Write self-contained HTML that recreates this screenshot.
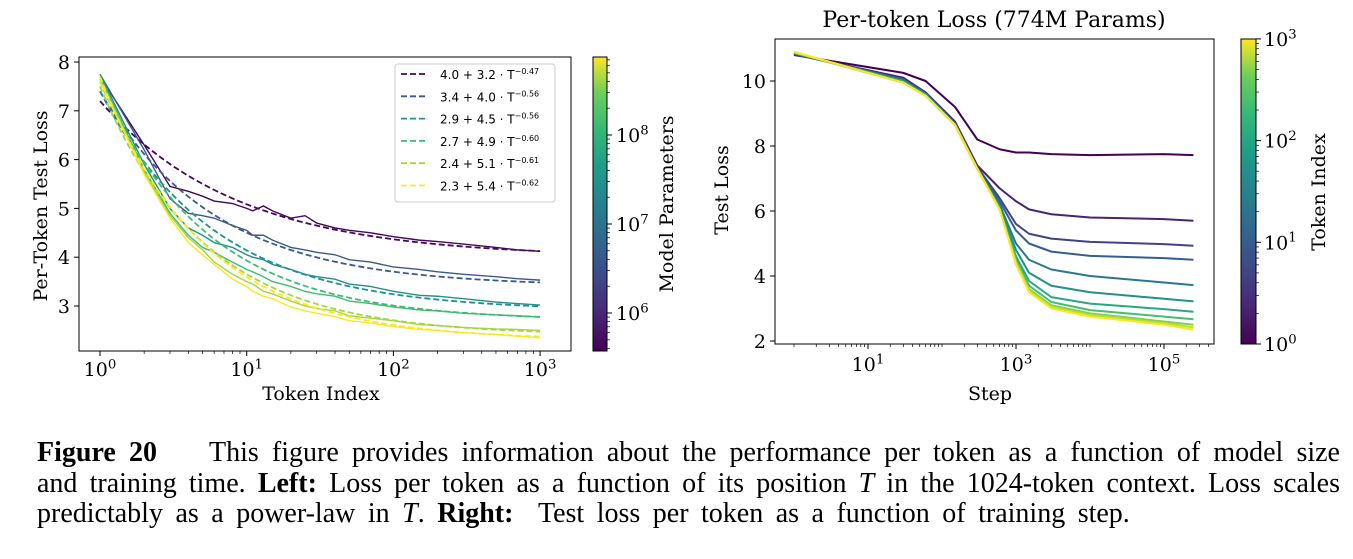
<!DOCTYPE html>
<html><head><meta charset="utf-8">
<style>
html,body{margin:0;padding:0;background:#fff;}
body{width:1353px;height:559px;overflow:hidden;position:relative;font-family:"DejaVu Serif","Liberation Serif",serif;}
svg{position:absolute;left:0;top:0;}
.cap{position:absolute;left:37px;width:1303px;font-family:"Liberation Serif",serif;font-size:28px;line-height:32px;color:#000;white-space:nowrap;}
.j{text-align:justify;text-align-last:justify;}
</style></head>
<body>
<svg id="chart" width="1353" height="430">
<defs>
<linearGradient id="vir" x1="0" y1="1" x2="0" y2="0">
<stop offset="0" stop-color="#440154"/><stop offset="0.13" stop-color="#482878"/><stop offset="0.25" stop-color="#3e4989"/><stop offset="0.38" stop-color="#31688e"/><stop offset="0.5" stop-color="#26828e"/><stop offset="0.63" stop-color="#1f9e89"/><stop offset="0.75" stop-color="#35b779"/><stop offset="0.88" stop-color="#6ece58"/><stop offset="1" stop-color="#fde725"/>
</linearGradient>
</defs>
<g id="left"></g><g id="right"></g>
</svg>
<div class="cap j" style="top:437px"><b>Figure 20</b>&nbsp;&nbsp;&nbsp; This figure provides information about the performance per token as a function of model size</div>
<div class="cap j" style="top:468px">and training time. <b>Left:</b> Loss per token as a function of its position <i>T</i> in the 1024-token context. Loss scales</div>
<div class="cap" style="top:498px;word-spacing:5.5px">predictably as a power-law in <i>T</i>. <b>Right:</b>&nbsp; Test loss per token as a function of training step.</div>
<script>
// ---------- LEFT CHART DATA ----------
const tokenIdx = [1,2,3,4,5,6,8,10,11,13,15,20,25,30,40,50,70,100,150,200,300,500,700,1000];
const lossS1 = [7.7,6.3,5.45,5.35,5.25,5.15,5.1,5.0,4.95,5.05,4.95,4.8,4.85,4.7,4.6,4.55,4.5,4.42,4.35,4.32,4.27,4.2,4.15,4.12];
const lossS2 = [7.75,6.2,5.2,4.9,4.85,4.8,4.65,4.55,4.45,4.45,4.35,4.2,4.15,4.1,4.05,3.95,3.9,3.8,3.75,3.7,3.65,3.6,3.56,3.53];
const lossS3 = [7.75,5.9,5.0,4.6,4.45,4.3,4.2,4.05,4.0,3.95,3.85,3.75,3.65,3.6,3.55,3.45,3.4,3.3,3.22,3.2,3.15,3.08,3.05,3.02];
const lossS4 = [7.7,5.8,4.9,4.45,4.2,4.1,3.9,3.75,3.7,3.6,3.5,3.4,3.3,3.25,3.2,3.1,3.05,2.98,2.92,2.9,2.85,2.82,2.8,2.77];
const lossS5 = [7.65,5.75,4.85,4.4,4.15,3.9,3.65,3.5,3.45,3.3,3.25,3.1,3.0,2.95,2.9,2.8,2.75,2.7,2.62,2.6,2.56,2.53,2.52,2.5];
const lossS6 = [7.6,5.7,4.8,4.3,4.05,3.85,3.55,3.4,3.3,3.2,3.15,2.98,2.9,2.85,2.78,2.7,2.65,2.58,2.52,2.5,2.45,2.42,2.38,2.35];
const fitA = [4.0,3.4,2.9,2.7,2.4,2.3];
const fitB = [3.2,4.0,4.5,4.9,5.1,5.4];
const fitC = [0.47,0.56,0.56,0.60,0.61,0.62];
const fitLabels = ["4.0 + 3.2 · T","3.4 + 4.0 · T","2.9 + 4.5 · T","2.7 + 4.9 · T","2.4 + 5.1 · T","2.3 + 5.4 · T"];
const fitExp = ["−0.47","−0.56","−0.56","−0.60","−0.61","−0.62"];
const leftColors = ["#45085b","#3b5a8c","#20918c","#3fbc73","#a2d83a","#fde725"];
const leftYTicks = [3,4,5,6,7,8];
const leftXTicks = [0,1,2,3];
const cbLeftTicks = [6,7,8];
// ---------- RIGHT CHART DATA ----------
const steps = [1,30,60,150,300,600,1000,1500,3000,10000,100000,250000];
const tokIndexR = [1,2,4,8,16,32,64,128,256,512,1024];
const rS1 = [10.8,10.25,10.0,9.2,8.2,7.9,7.8,7.8,7.75,7.72,7.75,7.72];
const rS2 = [10.82,10.1,9.65,8.75,7.4,6.7,6.3,6.05,5.9,5.8,5.75,5.7];
const rS3 = [10.83,10.05,9.65,8.7,7.35,6.4,5.6,5.3,5.15,5.05,4.98,4.93];
const rS4 = [10.84,10.05,9.6,8.7,7.3,6.3,5.4,5.0,4.75,4.62,4.55,4.5];
const rS5 = [10.85,10.0,9.6,8.65,7.3,6.2,5.0,4.5,4.2,4.0,3.8,3.72];
const rS6 = [10.86,10.0,9.6,8.65,7.3,6.15,4.8,4.1,3.7,3.5,3.3,3.22];
const rS7 = [10.87,10.0,9.55,8.65,7.3,6.1,4.6,3.85,3.35,3.15,2.98,2.9];
const rS8 = [10.88,9.95,9.55,8.65,7.3,6.05,4.5,3.7,3.2,2.95,2.75,2.67];
const rS9 = [10.88,9.95,9.55,8.65,7.3,6.05,4.45,3.6,3.1,2.85,2.6,2.5];
const rS10 = [10.89,9.95,9.55,8.65,7.3,6.05,4.4,3.55,3.05,2.8,2.55,2.42];
const rS11 = [10.9,9.95,9.55,8.65,7.3,6.05,4.35,3.5,3.0,2.75,2.5,2.35];
const rightYTicks = [2,4,6,8,10];
const rightXTicks = [1,3,5];
const cbRightTicks = [0,1,2,3];

const NS="http://www.w3.org/2000/svg";
function mk(tag,attrs,parent){const e=document.createElementNS(NS,tag);for(const k in attrs)e.setAttribute(k,attrs[k]);parent.appendChild(e);return e;}
function viridis(t){const s=[[68,1,84],[72,40,120],[62,73,137],[49,104,142],[38,130,142],[31,158,137],[53,183,121],[110,206,88],[181,222,43],[253,231,37]];
 t=Math.max(0,Math.min(1,t))*(s.length-1);const i=Math.min(Math.floor(t),s.length-2),f=t-i;
 return "rgb("+s[i].map((v,k)=>Math.round(v+(s[i+1][k]-v)*f)).join(",")+")";}
function sup(parent,x,y,base,exp,size,anchor,name){
 const t=mk("text",{x:x,y:y,"font-size":size,"text-anchor":anchor,fill:"#000"},parent);
 
 
 t.appendChild(document.createTextNode(base));
 const s=mk("tspan",{dy:-size*0.4,"font-size":size*0.7},t);s.textContent=exp;return t;}

// ---------- LEFT ----------
const L=document.getElementById("left");
const lx=v=>100+(Math.log10(v))*146.7;
const ly=v=>306-(v-3)*48.8;
leftYTicks.forEach(v=>{
 mk("line",{x1:74,x2:79,y1:ly(v),y2:ly(v),stroke:"#000"},L);
 const t=mk("text",{x:70,y:ly(v)+7,"font-size":19,"text-anchor":"end"},L);
 
 
 t.textContent=v;});
leftXTicks.forEach(e=>{
 mk("line",{x1:lx(Math.pow(10,e)),x2:lx(Math.pow(10,e)),y1:351,y2:356,stroke:"#000"},L);
 sup(L,lx(Math.pow(10,e)),376,"10",e,19,"middle","left-x-tick-label");
 for(let m=2;m<10&&e<3;m++){const xx=lx(m*Math.pow(10,e));mk("line",{x1:xx,x2:xx,y1:351,y2:354,stroke:"#000","stroke-width":0.7},L);}
});
{const t=mk("text",{x:321,y:400,"font-size":19,"text-anchor":"middle"},L);
 
 
 t.textContent="Token Index";}
{const t=mk("text",{x:0,y:0,"font-size":19,"text-anchor":"middle",transform:"translate(47,206) rotate(-90)"},L);
 
 
 t.textContent="Per-Token Test Loss";}
const leftSeries=[lossS1,lossS2,lossS3,lossS4,lossS5,lossS6];
leftSeries.forEach((s,i)=>{
 const p=mk("polyline",{points:s.map((v,k)=>lx(tokenIdx[k])+","+ly(v)).join(" "),fill:"none",stroke:leftColors[i],"stroke-width":1.4},L);
 
 
 const pts=[];for(let k=0;k<=60;k++){const T=Math.pow(10,3*k/60);pts.push(lx(T)+","+ly(fitA[i]+fitB[i]*Math.pow(T,-fitC[i])));}
 const d=mk("polyline",{points:pts.join(" "),fill:"none",stroke:leftColors[i],"stroke-width":1.8,"stroke-dasharray":"6,3"},L);
 
 
});
{const r=mk("rect",{x:79,y:57,width:492,height:294,fill:"none",stroke:"#000","stroke-width":1},L);
 
 }
{const lg=mk("g",{},L);
 
 
 mk("rect",{x:395,y:64,width:160,height:138,rx:3,fill:"#fff",stroke:"#ccc"},lg);
 fitLabels.forEach((lab,i)=>{const y=74+i*22.3;
  mk("line",{x1:401,x2:428,y1:y,y2:y,stroke:leftColors[i],"stroke-width":1.8,"stroke-dasharray":"6,3"},lg);
  const t=mk("text",{x:440,y:y+5,"font-size":12,"font-family":"DejaVu Sans, sans-serif"},lg);
  
  
  t.textContent=lab;const s=mk("tspan",{dy:-5,"font-size":8},t);s.textContent=fitExp[i];});
}
// left colorbar
{const r=mk("rect",{x:593,y:57,width:14,height:294,fill:"url(#vir)",stroke:"#000","stroke-width":1},L);
 
 
 const cy=e=>313-(e-6)*89;
 cbLeftTicks.forEach(e=>{mk("line",{x1:607,x2:612,y1:cy(e),y2:cy(e),stroke:"#000"},L);
  sup(L,616,cy(e)+7,"10",e,19,"start","left-colorbar-tick");});
 for(let e=5;e<9;e++)for(let m=2;m<10;m++){const yy=cy(e+Math.log10(m));if(yy>57&&yy<351)mk("line",{x1:607,x2:610,y1:yy,y2:yy,stroke:"#000","stroke-width":0.7},L);}
 const t=mk("text",{x:0,y:0,"font-size":19,"text-anchor":"middle",transform:"translate(673,204) rotate(-90)"},L);
 
 
 t.textContent="Model Parameters";}

// ---------- RIGHT ----------
const R=document.getElementById("right");
const rx=v=>868+(Math.log10(v)-1)*74;
const ry=v=>341-(v-2)*32.5;
{const t=mk("text",{x:994,y:27,"font-size":22,"text-anchor":"middle"},R);
 
 
 t.textContent="Per-token Loss (774M Params)";}
rightYTicks.forEach(v=>{
 mk("line",{x1:770,x2:775,y1:ry(v),y2:ry(v),stroke:"#000"},R);
 const t=mk("text",{x:766,y:ry(v)+7,"font-size":19,"text-anchor":"end"},R);
 
 
 t.textContent=v;});
rightXTicks.forEach(e=>{
 mk("line",{x1:rx(Math.pow(10,e)),x2:rx(Math.pow(10,e)),y1:344,y2:349,stroke:"#000"},R);
 sup(R,rx(Math.pow(10,e)),371,"10",e,19,"middle","right-x-tick-label");});
for(let e=0;e<6;e++)for(let m=1;m<10;m++){const xx=rx(m*Math.pow(10,e));if(xx>775&&xx<1214&&!(m==1&&e%2==1))mk("line",{x1:xx,x2:xx,y1:344,y2:347,stroke:"#000","stroke-width":0.7},R);}
{const t=mk("text",{x:990,y:400,"font-size":19,"text-anchor":"middle"},R);
 
 
 t.textContent="Step";}
{const t=mk("text",{x:0,y:0,"font-size":19,"text-anchor":"middle",transform:"translate(728,190) rotate(-90)"},R);
 
 
 t.textContent="Test Loss";}
const rightSeries=[rS1,rS2,rS3,rS4,rS5,rS6,rS7,rS8,rS9,rS10,rS11];
rightSeries.forEach((s,i)=>{
 const p=mk("polyline",{points:s.map((v,k)=>rx(steps[k])+","+ry(v)).join(" "),fill:"none",stroke:viridis(Math.log10(tokIndexR[i])/3),"stroke-width":2,"stroke-linejoin":"round"},R);
 
 
});
{const r=mk("rect",{x:775,y:39,width:439,height:305,fill:"none",stroke:"#000","stroke-width":1},R);
 
 }
{const r=mk("rect",{x:1241,y:39,width:15,height:305,fill:"url(#vir)",stroke:"#000","stroke-width":1},R);
 
 
 const cy=e=>344-e*101.7;
 cbRightTicks.forEach(e=>{mk("line",{x1:1256,x2:1261,y1:cy(e),y2:cy(e),stroke:"#000"},R);
  sup(R,1264,cy(e)+7,"10",e,19,"start","right-colorbar-tick");});
 for(let e=0;e<3;e++)for(let m=2;m<10;m++){const yy=cy(e+Math.log10(m));mk("line",{x1:1256,x2:1259,y1:yy,y2:yy,stroke:"#000","stroke-width":0.7},R);}
 const t=mk("text",{x:0,y:0,"font-size":19,"text-anchor":"middle",transform:"translate(1325,192) rotate(-90)"},R);
 
 
 t.textContent="Token Index";}
</script>
</body></html>
